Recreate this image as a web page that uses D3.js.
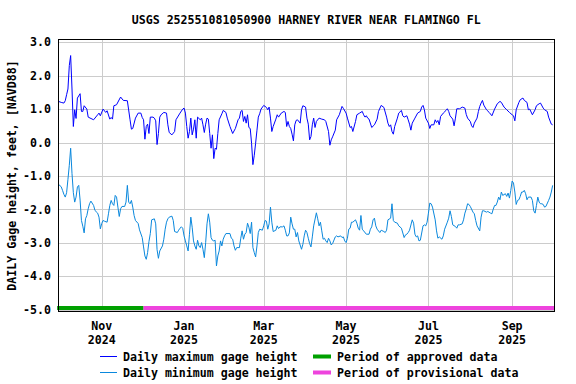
<!DOCTYPE html>
<html>
<meta charset="utf-8">
<head>
  <title>USGS gage height</title>
</head>

<style>
body { margin: 0; background: white; }
text {
  font-family: "DejaVu Sans Mono", "Liberation Mono", monospace;
  font-size: 11.6px;
  font-weight: bold;
  fill: black;
}
.grid line { stroke: #cccccc; stroke-width: 1; shape-rendering: crispEdges; }
</style>

<body>
  <div id="chart"></div>

  <script src="https://d3js.org/d3.v7.min.js"></script>
  <script>

var title = 'USGS 252551081050900 HARNEY RIVER NEAR FLAMINGO FL';
var yTitle = 'DAILY Gage height, feet, [NAVD88]';
var startDate = '2024-09-30';

// y ticks and month ticks
var yTicks = [3, 2, 1, 0, -1, -2, -3, -4, -5];
var monthTicks = ['2024-11-01', '2025-01-01', '2025-03-01', '2025-05-01', '2025-07-01', '2025-09-01'];
var monthNames = ['Nov', 'Jan', 'Mar', 'May', 'Jul', 'Sep'];
var monthYears = ['2024', '2025', '2025', '2025', '2025', '2025'];

// daily maximum gage height (day since start, feet)
var maxDay = [0, 2, 4, 5, 6, 7, 8, 9, 10, 11, 12, 13, 14, 16, 17, 18, 19, 21, 22, 26, 29, 30, 31, 33, 35, 36, 38, 39, 40, 41, 43, 46, 48, 51, 53, 54, 55, 57, 59, 61, 62, 63, 64, 65, 66, 67, 68, 70, 71, 72, 73, 74, 75, 76, 78, 80, 81, 82, 84, 86, 87, 90, 92, 93, 94, 95, 96, 97, 98, 99, 100, 101, 102, 103, 105, 106, 107, 108, 109, 110, 111, 112, 113, 114, 115, 116, 117, 118, 119, 121, 122, 124, 125, 127, 129, 131, 133, 134, 135, 136, 137, 138, 139, 140, 141, 142, 143, 144, 145, 146, 147, 148, 149, 150, 152, 154, 155, 156, 157, 158, 159, 161, 162, 163, 165, 167, 168, 169, 170, 171, 172, 173, 174, 175, 176, 177, 179, 180, 181, 183, 184, 185, 186, 187, 188, 189, 190, 191, 193, 195, 197, 198, 200, 201, 202, 203, 205, 206, 208, 210, 211, 213, 214, 216, 217, 218, 220, 221, 223, 225, 226, 227, 228, 229, 230, 232, 234, 236, 237, 239, 241, 243, 244, 245, 246, 247, 248, 249, 251, 252, 254, 255, 256, 258, 259, 260, 261, 262, 264, 266, 268, 269, 270, 271, 272, 274, 275, 276, 278, 279, 280, 281, 282, 283, 285, 287, 288, 289, 290, 292, 293, 294, 295, 297, 298, 299, 301, 302, 303, 305, 306, 307, 308, 310, 311, 312, 313, 314, 315, 317, 319, 321, 323, 325, 327, 328, 330, 332, 334, 336, 337, 338, 339, 341, 342, 344, 345, 347, 348, 349, 351, 353, 354, 356, 357, 359, 360, 362, 363, 365, 366];
var maxValue = [1.23, 1.2, 1.18, 1.25, 1.43, 1.6, 2.3, 2.6, 1.6, 0.48, 0.98, 0.72, 1.33, 1.46, 0.93, 0.93, 1.1, 1.0, 0.76, 0.68, 0.83, 0.88, 0.8, 1.0, 0.9, 0.95, 0.7, 0.75, 0.7, 1.1, 1.13, 1.36, 1.26, 1.25, 0.68, 0.4, 0.42, 0.73, 0.88, 0.88, 0.75, 0.68, 0.1, 0.48, 0.55, 0.27, 0.76, 0.76, 0.73, 0.65, -0.06, 0.27, 0.76, 0.83, 0.9, 0.88, 0.53, 0.3, 0.23, 0.33, 0.68, 0.88, 1.0, 1.03, 0.88, 0.48, 0.13, 0.33, 0.73, 0.23, 0.4, 0.68, 0.13, 0.76, 0.68, 0.73, 0.53, 0.3, 0.55, 0.73, 0.7, 0.27, -0.17, 0.23, -0.48, -0.17, -0.2, 0.27, 0.68, 0.86, 0.96, 0.9, 0.73, 0.48, 0.27, 0.42, 0.68, 0.73, 0.93, 0.96, 0.63, 0.78, 0.58, 0.83, 0.45, 0.42, -0.02, -0.66, -0.38, -0.02, 0.37, 0.76, 0.86, 1.0, 1.11, 1.05, 0.98, 1.06, 0.73, 0.33, 0.48, 0.7, 0.83, 0.76, 0.88, 0.93, 0.9, 0.48, 0.63, 0.48, 0.42, 0.25, 0.05, 0.53, 0.66, 0.68, 0.58, 0.98, 1.1, 1.06, 0.73, 0.55, 0.08, 0.18, 0.53, 0.73, 0.45, 0.63, 0.73, 0.7, 0.68, 0.63, 0.33, -0.08, 0.08, 0.17, 0.37, 0.68, 0.83, 1.08, 1.02, 0.88, 0.73, 0.45, 0.48, 0.33, 0.63, 0.83, 0.88, 0.93, 0.83, 0.76, 0.8, 0.73, 0.7, 0.45, 0.53, 0.7, 0.93, 1.11, 1.05, 0.76, 0.58, 0.48, 0.53, 0.33, 0.25, 0.48, 0.73, 0.88, 0.96, 0.8, 0.76, 0.8, 0.68, 0.55, 0.37, 0.58, 0.73, 0.88, 0.93, 1.06, 1.11, 0.98, 0.73, 0.58, 0.42, 0.53, 0.53, 0.68, 0.6, 0.66, 0.53, 0.78, 0.88, 0.96, 1.01, 0.93, 0.8, 0.7, 0.5, 0.73, 1.01, 1.01, 1.03, 1.06, 1.03, 0.84, 0.73, 0.63, 0.5, 0.45, 0.58, 0.73, 0.93, 1.08, 1.18, 1.26, 1.12, 0.98, 0.9, 0.8, 1.0, 1.16, 1.23, 1.2, 1.06, 0.98, 0.9, 0.83, 0.8, 0.65, 0.98, 1.2, 1.28, 1.33, 1.26, 1.2, 0.98, 1.0, 0.83, 0.98, 1.1, 1.16, 1.18, 1.03, 0.98, 0.93, 0.76, 0.55, 0.53];

// daily minimum gage height (day since start, feet)
var minDay = [0, 2, 3, 4, 5, 6, 7, 8, 9, 10, 11, 12, 13, 14, 15, 16, 17, 18, 19, 20, 21, 22, 23, 24, 26, 27, 29, 30, 31, 32, 33, 34, 36, 37, 38, 39, 40, 41, 42, 43, 44, 45, 46, 47, 49, 50, 51, 52, 53, 54, 55, 56, 57, 59, 60, 62, 63, 64, 65, 66, 67, 68, 69, 71, 72, 73, 74, 75, 77, 78, 79, 80, 81, 82, 84, 85, 86, 88, 89, 90, 91, 92, 93, 94, 95, 96, 97, 98, 99, 100, 101, 102, 103, 104, 105, 106, 107, 108, 109, 110, 111, 112, 113, 114, 115, 116, 117, 118, 119, 120, 121, 122, 123, 124, 127, 128, 129, 130, 131, 132, 134, 135, 136, 137, 138, 139, 140, 141, 142, 143, 144, 145, 146, 147, 148, 149, 151, 152, 153, 154, 155, 156, 157, 158, 159, 161, 162, 163, 164, 166, 167, 168, 169, 170, 171, 172, 173, 174, 175, 176, 177, 178, 180, 181, 182, 183, 184, 185, 186, 187, 188, 189, 191, 192, 193, 194, 195, 196, 197, 198, 199, 200, 201, 202, 203, 205, 206, 207, 209, 210, 211, 212, 213, 214, 215, 216, 217, 218, 220, 221, 222, 223, 224, 225, 226, 228, 230, 231, 232, 233, 234, 235, 236, 238, 239, 241, 242, 243, 244, 246, 247, 248, 249, 251, 252, 254, 256, 257, 258, 259, 260, 262, 263, 264, 265, 266, 267, 268, 270, 271, 272, 273, 274, 275, 276, 277, 279, 280, 281, 282, 284, 285, 286, 288, 289, 290, 291, 292, 294, 295, 296, 297, 299, 300, 301, 302, 303, 304, 305, 307, 308, 309, 310, 312, 313, 314, 315, 317, 318, 320, 321, 322, 323, 324, 325, 326, 327, 328, 329, 331, 332, 333, 334, 335, 336, 337, 338, 339, 340, 341, 342, 343, 344, 345, 346, 347, 348, 350, 351, 352, 353, 354, 355, 356, 357, 358, 359, 360, 361, 363, 364, 365, 366];
var minValue = [-1.25, -1.32, -1.43, -1.55, -1.63, -1.5, -1.1, -0.68, -0.17, -0.93, -1.5, -1.78, -1.63, -1.33, -1.28, -1.72, -2.33, -2.5, -2.7, -2.28, -2.18, -1.98, -1.83, -1.75, -1.88, -2.03, -2.11, -2.23, -2.58, -2.42, -2.33, -2.35, -2.38, -2.13, -1.88, -1.73, -1.83, -1.88, -1.58, -1.63, -1.93, -2.21, -1.98, -1.91, -1.91, -1.78, -1.28, -1.78, -1.83, -1.73, -1.93, -2.18, -2.33, -2.42, -2.61, -2.84, -3.12, -3.39, -3.49, -3.29, -2.96, -2.72, -2.31, -2.28, -2.43, -3.2, -3.46, -3.24, -3.09, -2.89, -2.59, -2.38, -2.28, -2.23, -2.2, -2.33, -2.66, -2.69, -2.62, -2.56, -2.52, -2.56, -2.79, -2.94, -3.09, -3.24, -2.74, -2.23, -2.53, -2.94, -3.09, -3.19, -2.92, -3.09, -3.14, -2.99, -3.19, -3.44, -2.99, -2.43, -2.13, -2.38, -2.84, -2.92, -2.94, -2.92, -3.69, -3.39, -3.24, -2.94, -3.09, -2.89, -2.79, -2.72, -2.72, -2.86, -2.89, -3.09, -3.22, -3.14, -3.14, -2.86, -2.64, -2.89, -2.74, -2.69, -2.41, -2.53, -2.72, -2.38, -3.14, -3.29, -3.42, -3.09, -2.69, -2.59, -2.62, -2.49, -2.33, -2.35, -2.59, -2.43, -1.93, -2.38, -2.66, -2.62, -2.49, -2.57, -2.52, -2.52, -2.49, -2.62, -2.79, -2.79, -2.7, -2.23, -2.43, -2.59, -2.59, -2.82, -2.69, -2.94, -3.19, -3.04, -2.79, -2.62, -2.69, -2.86, -3.02, -3.12, -2.82, -2.49, -2.1, -2.28, -2.49, -2.38, -2.64, -2.89, -2.86, -2.94, -2.99, -2.86, -2.94, -3.06, -3.02, -2.82, -2.79, -2.82, -2.79, -2.84, -2.82, -2.94, -2.99, -2.86, -2.59, -2.56, -2.38, -2.38, -2.31, -2.41, -2.56, -2.62, -2.18, -2.59, -2.64, -2.74, -2.74, -2.59, -2.52, -2.31, -2.26, -2.49, -2.59, -2.69, -2.62, -2.66, -2.69, -2.62, -2.31, -2.26, -1.83, -2.33, -2.38, -2.41, -2.49, -2.56, -2.84, -2.76, -2.74, -2.69, -2.62, -2.31, -2.41, -2.74, -2.82, -2.79, -2.94, -2.92, -2.49, -2.46, -2.49, -2.38, -2.11, -1.81, -1.83, -1.93, -2.31, -2.64, -2.86, -2.82, -2.89, -2.79, -2.59, -2.38, -2.26, -2.04, -2.21, -2.46, -2.51, -2.56, -2.46, -2.46, -2.43, -2.31, -2.11, -1.99, -1.83, -1.85, -1.91, -2.08, -2.13, -2.33, -2.49, -2.64, -2.23, -2.04, -2.04, -2.08, -2.06, -2.11, -2.13, -1.99, -1.88, -1.88, -1.78, -1.63, -1.71, -1.48, -1.58, -1.53, -1.61, -1.51, -1.66, -1.43, -1.15, -1.21, -1.48, -1.85, -1.73, -1.71, -1.61, -1.48, -1.48, -1.43, -1.53, -1.71, -1.63, -1.63, -1.73, -2.04, -2.11, -1.88, -1.63, -1.78, -1.83, -1.83, -1.85, -1.93, -1.91, -1.73, -1.63, -1.48, -1.28];

// data approval periods
var periodNames = ['Period of approved data', 'Period of provisional data'];
var periodStart = ['2024-09-29', '2024-12-02'];
var periodEnd = ['2024-12-02', '2025-10-02'];
var periodColors = ['#00a000', '#ee44dd'];

var seriesNames = ['Daily maximum gage height', 'Daily minimum gage height'];
var seriesColors = ['#0000ff', '#0a88dd'];

var parse = d3.timeParse('%Y-%m-%d');
var t0 = parse(startDate);

function toPoints(days, values) {
  return days.map(function(d, i) {
    return {date: d3.timeDay.offset(t0, d), value: values[i]};
  });
}
var series = [toPoints(maxDay, maxValue), toPoints(minDay, minValue)];

var width = 576, height = 384;
var plotLeft = 58.5, plotRight = 554, plotTop = 39.5, plotBottom = 311.5;

var svg = d3.select('#chart')
  .append('svg')
  .attr('width', width)
  .attr('height', height);

var x = d3.scaleTime()
  .domain([parse('2024-09-30'), parse('2025-10-02')])
  .range([plotLeft, plotRight]);

var y = d3.scaleLinear()
  .domain([-5.05, 3.08])
  .range([plotBottom, plotTop]);

// grid
var grid = svg.append('g').attr('class', 'grid');
grid.selectAll('.hg')
  .data(yTicks)
  .enter()
  .append('line')
  .attr('x1', plotLeft).attr('x2', plotRight)
  .attr('y1', function(d) { return Math.round(y(d)) + 0.5; })
  .attr('y2', function(d) { return Math.round(y(d)) + 0.5; });
grid.selectAll('.vg')
  .data(monthTicks)
  .enter()
  .append('line')
  .attr('y1', plotTop).attr('y2', plotBottom)
  .attr('x1', function(d) { return Math.round(x(parse(d))) + 0.5; })
  .attr('x2', function(d) { return Math.round(x(parse(d))) + 0.5; });

// lines
var line = d3.line()
  .x(function(d) { return x(d.date); })
  .y(function(d) { return y(d.value); });

svg.selectAll('.series')
  .data(series)
  .enter()
  .append('path')
  .attr('d', line)
  .attr('fill', 'none')
  .attr('stroke', function(d, i) { return seriesColors[i]; })
  .attr('stroke-width', 1);

// approval bars
svg.selectAll('.period')
  .data(periodNames)
  .enter()
  .append('rect')
  .attr('x', function(d, i) { return x(parse(periodStart[i])); })
  .attr('width', function(d, i) { return x(parse(periodEnd[i])) - x(parse(periodStart[i])); })
  .attr('y', 306)
  .attr('height', 4)
  .attr('fill', function(d, i) { return periodColors[i]; });

// frame
svg.append('rect')
  .attr('x', plotLeft).attr('y', plotTop)
  .attr('width', plotRight - plotLeft).attr('height', plotBottom - plotTop)
  .attr('fill', 'none')
  .attr('stroke', 'black')
  .attr('stroke-width', 1)
  .style('shape-rendering', 'crispEdges');

// y tick labels
svg.selectAll('.ylab')
  .data(yTicks)
  .enter()
  .append('text')
  .attr('x', 51)
  .attr('y', function(d) { return y(d); })
  .attr('dy', '0.35em')
  .attr('text-anchor', 'end')
  .text(function(d) { return d3.format('.1f')(d).replace('−', '-'); });

// x tick labels
var xl = svg.selectAll('.xlab')
  .data(monthTicks)
  .enter()
  .append('text')
  .attr('text-anchor', 'middle');
xl.append('tspan')
  .attr('x', function(d) { return x(parse(d)); })
  .attr('y', 330)
  .text(function(d, i) { return monthNames[i]; });
xl.append('tspan')
  .attr('x', function(d) { return x(parse(d)); })
  .attr('y', 343.5)
  .text(function(d, i) { return monthYears[i]; });

// title
svg.append('text')
  .attr('x', (plotLeft + plotRight) / 2)
  .attr('y', 24)
  .attr('text-anchor', 'middle')
  .text(title);

svg.append('text')
  .attr('transform', 'translate(16, ' + ((plotTop + plotBottom) / 2) + ') rotate(-90)')
  .attr('text-anchor', 'middle')
  .text(yTitle);

// legend
var leg1 = svg.selectAll('.leg1')
  .data(seriesNames)
  .enter()
  .append('g')
  .attr('transform', function(d, i) { return 'translate(0,' + (356.5 + i * 16) + ')'; });
leg1.append('line')
  .attr('x1', 100).attr('x2', 117)
  .attr('stroke', function(d, i) { return seriesColors[i]; })
  .attr('stroke-width', 1);
leg1.append('text')
  .attr('x', 123)
  .attr('dy', '0.35em')
  .text(function(d) { return d; });

var leg2 = svg.selectAll('.leg2')
  .data(periodNames)
  .enter()
  .append('g')
  .attr('transform', function(d, i) { return 'translate(0,' + (356.5 + i * 16) + ')'; });
leg2.append('rect')
  .attr('x', 313).attr('y', -2)
  .attr('width', 18).attr('height', 4)
  .attr('fill', function(d, i) { return periodColors[i]; });
leg2.append('text')
  .attr('x', 337)
  .attr('dy', '0.35em')
  .text(function(d) { return d; });

  </script>
</body>
</html>
